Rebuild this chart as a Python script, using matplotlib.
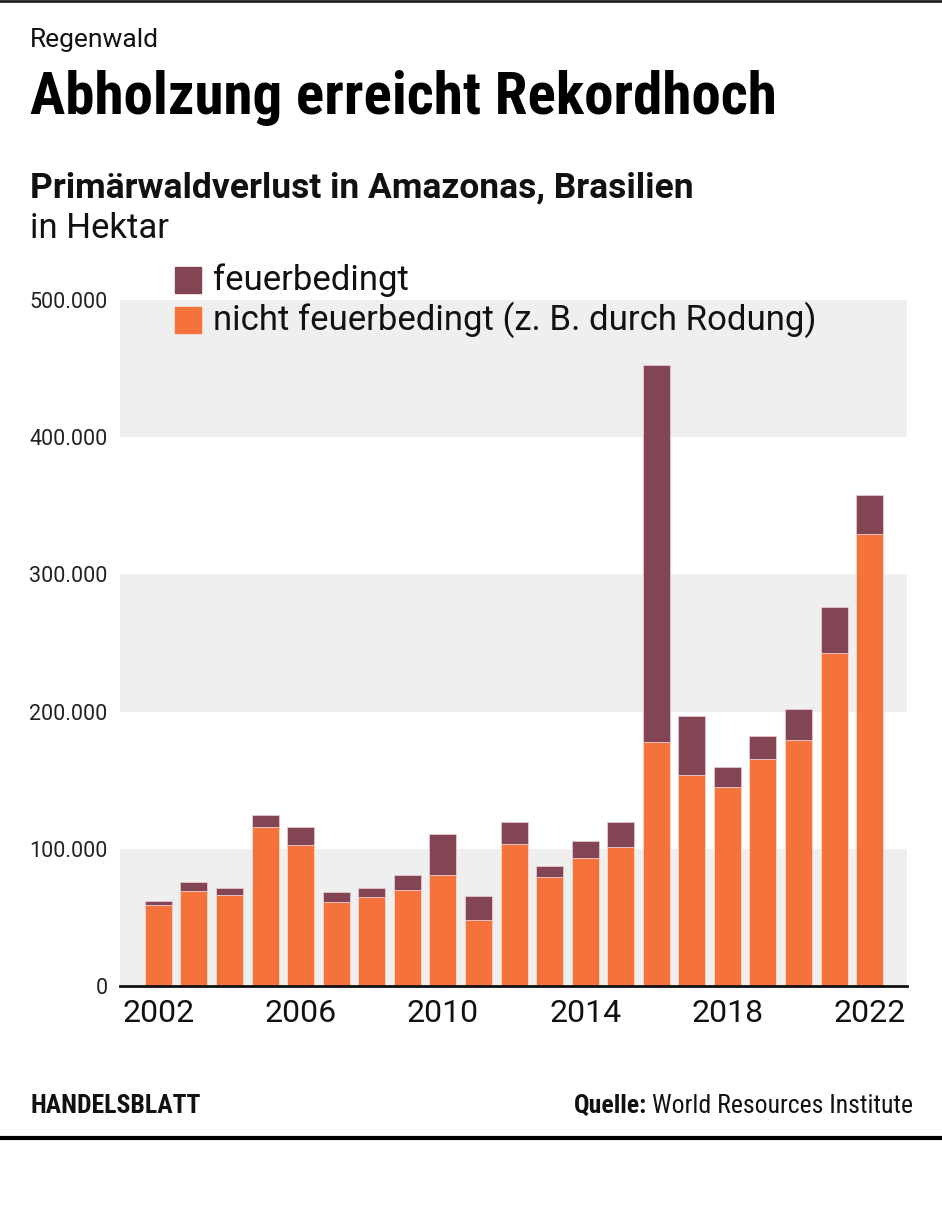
import numpy as np
import matplotlib.pyplot as plt
from matplotlib.patches import Rectangle
from matplotlib.ticker import FuncFormatter

years = list(range(2002, 2023))
# Verlust in Hektar
nicht_feuer = [58700, 69400, 66400, 115900, 102600, 61100, 64600, 70100, 80600, 48000,
               103600, 79200, 93200, 101000, 177800, 154000, 145300, 165300, 179300, 242400, 329800]
gesamt = [61900, 75500, 71300, 125000, 116200, 68200, 71300, 81000, 110800, 65300,
          119500, 87800, 105500, 119500, 452700, 196500, 159300, 182000, 201700, 276600, 357900]
feuer = [g - n for g, n in zip(gesamt, nicht_feuer)]
yticks = [0, 100000, 200000, 300000, 400000, 500000]
xticks = [2002, 2006, 2010, 2014, 2018, 2022]

orange = "#F5733A"
maroon = "#834554"
band = "#EFEFEF"

W, H = 942, 1208
fig = plt.figure(figsize=(W / 100, H / 100), dpi=100)
narrow = ["Roboto Condensed", "Roboto", "DejaVu Sans"]
sans = ["Roboto", "DejaVu Sans"]

def fy(y):
    return 1 - y / H

ax = fig.add_axes([120 / W, fy(986), (907 - 120) / W, (986 - 300) / H])
for lo in (0, 200000, 400000):
    ax.axhspan(lo, lo + 100000, color=band, zorder=0, lw=0)

ax.bar(years, nicht_feuer, width=0.76, color=orange, edgecolor="#F6D9D0", linewidth=0.6, zorder=2)
ax.bar(years, feuer, bottom=nicht_feuer, width=0.76, color=maroon, edgecolor="#E8C8CC",
       linewidth=0.6, zorder=2)

ax.set_xlim(2000.92, 2023.05)
ax.set_ylim(0, 500000)
ax.set_yticks(yticks)
ax.yaxis.set_major_formatter(FuncFormatter(lambda v, p: f"{int(v):,}".replace(",", ".")))
ax.set_xticks(xticks)
for s in ["top", "right", "left"]:
    ax.spines[s].set_visible(False)
ax.spines["bottom"].set_linewidth(2)
ax.spines["bottom"].set_color("#111111")
ax.tick_params(axis="y", length=0, pad=9, labelsize=15.5, labelcolor="#222222")
ax.tick_params(axis="x", length=0, pad=9, labelsize=23, labelcolor="#111111")
for lab in ax.get_yticklabels() + ax.get_xticklabels():
    lab.set_family(sans)
ax.set_facecolor("none")

# Legende
leg = [(maroon, "feuerbedingt", 280), (orange, "nicht feuerbedingt (z. B. durch Rodung)", 320)]
for col, txt, yc in leg:
    fig.patches.append(Rectangle((175 / W, fy(yc + 13)), 26 / W, 26 / H, color=col,
                                 transform=fig.transFigure, figure=fig))
    fig.text(213 / W, fy(yc), txt, fontsize=25, va="center", ha="left", family=sans, color="#111111")

# Texte
fig.text(30 / W, fy(40), "Regenwald", fontsize=19, va="center", family=sans, color="#111111")
fig.text(30 / W, fy(98), "Abholzung erreicht Rekordhoch", fontsize=42.5, fontweight=900,
         va="center", family=narrow, color="black")
fig.text(30 / W, fy(188), "Primärwaldverlust in Amazonas, Brasilien", fontsize=25.5, fontweight="bold",
         va="center", family=sans, color="#111111")
fig.text(30 / W, fy(229), "in Hektar", fontsize=25, va="center", family=sans, color="#111111")
fig.text(30 / W, fy(1106), "HANDELSBLATT", fontsize=18.5, fontweight="bold", va="center",
         family=narrow, color="#111111")
src = fig.text(913 / W, fy(1106), "World Resources Institute", fontsize=18.5, va="center", ha="right",
               family=narrow, color="#111111")
fig.canvas.draw()

# "Quelle:" links an die Quelle setzen
bb = src.get_window_extent()
fig.text(bb.x0 / W - 5 / W, fy(1106), "Quelle:", fontsize=18.5, fontweight="bold", va="center",
         ha="right", family=narrow, color="#111111")

fig.add_artist(plt.Line2D([0, 1], [fy(1), fy(1)], color="#222222", lw=2, transform=fig.transFigure))
fig.add_artist(plt.Line2D([0, 1], [fy(1138), fy(1138)], color="black", lw=3, transform=fig.transFigure))

fig.savefig("out.png", dpi=100, facecolor="white")
